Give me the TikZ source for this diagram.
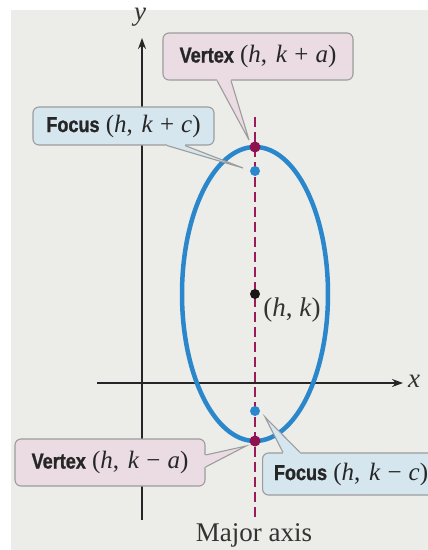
\documentclass[tikz,border=0pt]{standalone}
\usepackage{fontspec}
\setmainfont{Liberation Serif}
\newfontfamily\condfont[FakeStretch=0.84, BoldFeatures={FakeBold=1.2}]{Liberation Sans}
\usetikzlibrary{arrows.meta}
\definecolor{bgc}{HTML}{ECECE8}
\definecolor{ellc}{HTML}{2A87CC}
\definecolor{axisc}{HTML}{9B1B5A}
\definecolor{vdot}{HTML}{8E1150}
\definecolor{vfill}{HTML}{EADCE2}
\definecolor{ffill}{HTML}{D5E6EF}
\definecolor{bordc}{HTML}{9C9C9C}
\newcommand\mv[1]{\textit{#1}}
\newcommand\lbl[1]{{\fontsize{21.5}{24}\selectfont\condfont\bfseries #1}}
\newcommand\mpair[2]{(\mv{h},\hspace{0.35em}\mv{k}\hspace{0.28em}#1\hspace{0.28em}\mv{#2})}
\tikzset{
  callbox/.style={draw=bordc, line width=1.1pt, rounded corners=6pt, inner sep=0pt,
    font=\fontsize{25}{28}\selectfont, text=black!85},
  vbox/.style={callbox, fill=vfill},
  fbox/.style={callbox, fill=ffill},
  bord/.style={draw=bordc, line width=1.1pt, line join=miter},
  axisline/.style={line width=1.6pt, black!85, -{Stealth[length=11pt,width=8pt]}},
  dotv/.style={circle, fill=vdot, inner sep=0pt, minimum size=11pt},
  dotf/.style={circle, fill=ellc, inner sep=0pt, minimum size=10pt},
  dotc/.style={circle, fill=black!90, inner sep=0pt, minimum size=10pt},
  axlabel/.style={font=\fontsize{27}{30}\selectfont\itshape, text=black!80},
}
\begin{document}
\begin{tikzpicture}[x=1pt,y=-1pt]
\useasboundingbox (0,0) rectangle (428,550);
\clip (0,0) rectangle (428,550);
\fill[bgc] (11,10) rectangle (428,550);

% axes
\coordinate (xs) at (97,383);
\coordinate (xe) at (403,383);
\coordinate (ys) at (142,520);
\coordinate (ye) at (142,38);
\draw[axisline] (xs) -- (xe);
\draw[axisline] (ys) -- (ye);
\node[axlabel] (xlab) at (414,381) {x};
\node[axlabel] (ylab) at (140,17) {y};

% ellipse
\coordinate (c) at (255,294);
\draw[ellc, line width=4.5pt] (c) ellipse [x radius=73pt, y radius=147pt];

% major axis
\coordinate (ma1) at (255,117);
\coordinate (ma2) at (255,520);
\draw[axisc, line width=1.8pt, dash pattern=on 10pt off 5pt] (ma1) -- (ma2);
\node[font=\fontsize{27}{30}\selectfont, text=black!80] (malab) at (254,535) {Major axis};

% points
\node[dotc] (ctr) at (c) {};
\node[dotv] (vt) at (255,147) {};
\node[dotv] (vb) at (255,441) {};
\node[dotf] (ft) at (255,171) {};
\node[dotf] (fb) at (255,411) {};
\node[font=\fontsize{27}{30}\selectfont, text=black!80] (hk) at (292,310) {(\mv{h}, \mv{k})};

% callout boxes
\node[vbox, minimum width=190pt, minimum height=47pt] (vtop) at (258,56.5)
  {\lbl{Vertex} \mpair{+}{a}};
\node[fbox, minimum width=181pt, minimum height=38pt] (ftop) at (123.5,126)
  {\lbl{Focus} \mpair{+}{c}};
\node[vbox, minimum width=190pt, minimum height=47pt] (vbot) at (110,462.5)
  {\lbl{Vertex} \mpair{−}{a}};
\node[fbox, minimum width=180pt, minimum height=42pt, anchor=west] (fbot) at (262,474)
  {\hspace*{11pt}\lbl{Focus} \mpair{−}{c}\hspace*{14pt}};

% pointers
\coordinate (tvt) at (249,140);
\coordinate (tft) at (243,168);
\coordinate (tvb) at (246,446);
\coordinate (tfb) at (265,417);

\fill[vfill] ([xshift=-41pt,yshift=2pt]vtop.south) -- ([xshift=-41pt]vtop.south) -- (tvt)
  -- ([xshift=-27pt]vtop.south) -- ([xshift=-27pt,yshift=2pt]vtop.south) -- cycle;
\draw[bord] ([xshift=-41pt]vtop.south) -- (tvt) -- ([xshift=-27pt]vtop.south);

\fill[ffill] ([xshift=43.5pt,yshift=2pt]ftop.south) -- ([xshift=43.5pt]ftop.south) -- (tft)
  -- ([xshift=61.5pt]ftop.south) -- ([xshift=61.5pt,yshift=2pt]ftop.south) -- cycle;
\draw[bord] ([xshift=43.5pt]ftop.south) -- (tft) -- ([xshift=61.5pt]ftop.south);

\fill[vfill] ([xshift=-2pt,yshift=7.5pt]vbot.east) -- ([yshift=7.5pt]vbot.east) -- (tvb)
  -- ([yshift=-4.5pt]vbot.east) -- ([xshift=-2pt,yshift=-4.5pt]vbot.east) -- cycle;
\draw[bord] ([yshift=7.5pt]vbot.east) -- (tvb) -- ([yshift=-4.5pt]vbot.east);

\fill[ffill] ([xshift=21pt,yshift=-2pt]fbot.north west) -- ([xshift=21pt]fbot.north west) -- (tfb)
  -- ([xshift=38pt]fbot.north west) -- ([xshift=38pt,yshift=-2pt]fbot.north west) -- cycle;
\draw[bord] ([xshift=21pt]fbot.north west) -- (tfb) -- ([xshift=38pt]fbot.north west);
\end{tikzpicture}
\end{document}
